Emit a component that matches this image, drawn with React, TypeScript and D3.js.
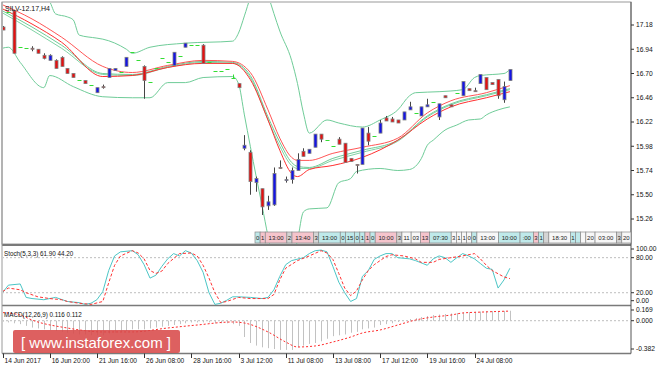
import React from "react";
import * as d3 from "d3";

const W = 664;
const H = 369;

// ---- candles (H4 bars, index 0..86) ----
const open = [17.16,17.31,17.32,16.96,16.95,16.95,16.94,16.88,16.83,16.83,
  16.86,16.75,16.70,16.64,16.63,16.59,16.51,16.57,16.66,16.73,
  16.71,16.77,16.91,16.83,16.77,16.62,16.75,16.85,16.81,16.78,
  16.87,16.96,16.98,16.98,16.98,16.81,16.72,16.72,16.74,16.66,
  16.60,15.96,15.92,15.62,15.56,15.39,15.40,15.77,15.64,15.65,
  15.74,15.93,15.91,15.97,16.10,16.04,15.98,16.05,16.01,15.86,
  15.80,15.80,16.11,16.08,16.11,16.26,16.25,16.24,16.24,16.34,
  16.31,16.28,16.37,16.42,16.27,16.48,16.39,16.51,16.48,16.55,
  16.53,16.60,16.66,16.61,16.64,16.44,16.63];
const high = [17.17,17.31,17.33,16.96,16.95,16.97,16.94,16.90,16.89,16.84,
  16.87,16.75,16.70,16.64,16.63,16.59,16.56,16.59,16.75,16.75,
  16.71,16.86,16.91,16.83,16.78,16.62,16.75,16.85,16.81,16.91,
  16.87,17.00,16.98,16.98,16.99,16.81,16.72,16.72,16.74,16.69,
  16.60,16.09,15.94,15.68,15.56,15.49,15.77,15.84,15.68,15.77,
  15.91,15.96,15.95,16.10,16.10,16.04,15.98,16.07,16.01,15.86,
  15.80,16.16,16.17,16.08,16.24,16.28,16.27,16.24,16.32,16.42,
  16.31,16.37,16.45,16.42,16.40,16.48,16.39,16.51,16.62,16.55,
  16.56,16.69,16.66,16.61,16.64,16.62,16.74];
const low = [17.13,17.31,16.90,16.96,16.95,16.92,16.90,16.84,16.83,16.75,
  16.77,16.70,16.66,16.64,16.60,16.59,16.51,16.55,16.66,16.73,
  16.71,16.77,16.91,16.83,16.45,16.62,16.75,16.85,16.81,16.78,
  16.87,16.96,16.98,16.98,16.80,16.81,16.72,16.72,16.74,16.66,
  16.56,15.94,15.50,15.53,15.30,15.35,15.39,15.76,15.62,15.61,
  15.74,15.88,15.91,15.97,16.02,16.04,15.98,16.00,15.82,15.83,
  15.71,15.80,15.99,16.08,16.11,16.23,16.22,16.21,16.24,16.34,
  16.31,16.28,16.37,16.42,16.24,16.46,16.37,16.51,16.48,16.53,
  16.52,16.60,16.54,16.59,16.45,16.41,16.63];
const close = [17.13,17.31,16.90,16.96,16.95,16.94,16.90,16.85,16.88,16.75,
  16.77,16.70,16.66,16.64,16.60,16.59,16.56,16.56,16.75,16.75,
  16.71,16.86,16.91,16.83,16.63,16.62,16.75,16.85,16.81,16.91,
  16.87,17.00,16.98,16.98,16.80,16.81,16.72,16.72,16.74,16.66,
  16.56,15.99,15.63,15.66,15.38,15.43,15.71,15.76,15.65,15.74,
  15.85,15.88,15.95,16.10,16.05,16.04,15.98,16.00,15.82,15.83,
  15.79,16.16,16.03,16.08,16.21,16.23,16.22,16.21,16.32,16.37,
  16.31,16.37,16.39,16.42,16.40,16.46,16.37,16.51,16.62,16.53,
  16.52,16.69,16.54,16.59,16.48,16.57,16.74];

// ---- moving averages / bands (read at selected bars) ----
const maIdx = [0,5,10,17,22,28,34,39,42,45,47,49,50,52,56,61,67,72,76,82,86];
const redSlow = [17.38,17.24,17.06,16.77,16.71,16.78,16.83,16.82,16.71,16.34,16.06,15.87,15.84,15.84,15.91,15.97,16.06,16.31,16.43,16.51,16.58];
const redFast = [17.34,17.19,17.01,16.67,16.68,16.76,16.80,16.80,16.64,16.24,15.94,15.71,15.68,15.75,15.79,15.87,16.04,16.25,16.37,16.46,16.52];
const greenMid = [17.32,17.16,16.98,16.70,16.69,16.77,16.82,16.81,16.68,16.27,16.02,15.82,15.78,15.77,15.86,15.94,16.04,16.28,16.40,16.49,16.55];
const green2 = [17.30,17.13,16.95,16.69,16.68,16.76,16.81,16.80,16.66,16.24,15.98,15.79,15.76,15.76,15.84,15.92,16.03,16.27,16.39,16.48,16.54];

const ubIdx = [0,5,7,8,9,11,12,13,16,17,21,22,25,31,39,40,41,42,44,45,47,49,50,51,52,55,57,61,64,67,69,70,74,78,80,81,83,85,86];
const ubVal = [17.82,17.58,17.46,17.41,17.29,17.26,17.23,17.08,17.05,17.04,16.94,16.90,16.96,17.00,17.02,17.10,17.27,17.45,17.67,17.48,17.12,16.83,16.60,16.31,16.11,16.24,16.21,16.17,16.24,16.34,16.48,16.51,16.52,16.54,16.66,16.68,16.69,16.70,16.74];
const lbIdx = [0,1,3,7,8,12,17,22,25,28,31,34,39,40,41,42,43,44,45,46,47,48,49,50,51,52,55,57,59,60,64,67,69,71,72,73,75,77,79,81,82,84,86];
const lbVal = [16.95,16.96,16.81,16.56,16.68,16.57,16.47,16.46,16.46,16.61,16.61,16.66,16.67,16.60,16.29,15.98,15.68,15.39,15.09,14.83,14.71,14.71,14.83,15.05,15.33,15.36,15.37,15.62,15.66,15.73,15.76,15.74,15.75,15.86,15.99,16.04,16.14,16.19,16.24,16.25,16.29,16.34,16.37];

// ---- stochastic ----
const kIdx = [0,1,3,4,5,7,9,11,13,14,15,16,17,18,19,20,22,23,24,25,26,27,28,29,30,31,32,33,34,35,36,37,38,39,40,42,44,45,46,47,48,49,51,52,53,54,55,56,57,58,59,60,61,62,63,64,65,66,67,69,70,72,73,74,75,76,77,78,79,80,81,82,83,84,85,86];
const kVal = [20,33,35,12,10,8,12,5,3,0,2,8,22,58,83,90,92,85,68,45,50,65,78,87,83,92,88,75,55,20,0,2,7,13,13,12,10,12,25,48,68,75,80,87,92,93,90,65,38,20,5,10,48,58,77,83,87,87,80,78,75,67,78,83,80,72,80,87,83,78,70,62,60,28,42,61.9];
const dIdx = [0,1,3,4,6,8,10,11,13,15,17,18,19,20,22,23,24,25,26,27,28,30,32,33,34,35,36,37,38,40,42,45,46,47,48,50,52,54,55,56,57,58,59,60,61,62,63,65,66,68,70,71,73,74,76,78,80,81,82,83,85,86];
const dVal = [22,28,25,20,13,10,8,5,2,0,5,37,67,83,92,88,78,58,53,57,70,87,88,83,67,45,20,3,5,12,10,10,17,42,62,75,83,92,88,77,53,28,15,23,42,58,68,82,85,83,78,72,72,77,80,83,87,78,67,58,47,44.2];

// ---- MACD ----
const macdHist = [-0.01,-0.02,-0.03,-0.04,-0.06,-0.08,-0.09,-0.10,-0.11,-0.12,
  -0.13,-0.14,-0.15,-0.16,-0.16,-0.17,-0.17,-0.17,-0.15,-0.14,
  -0.13,-0.12,-0.10,-0.10,-0.10,-0.09,-0.08,-0.07,-0.06,-0.05,
  -0.04,-0.03,-0.02,-0.02,-0.02,-0.02,-0.03,-0.03,-0.03,-0.04,
  -0.06,-0.19,-0.26,-0.29,-0.31,-0.32,-0.33,-0.34,-0.34,-0.34,
  -0.31,-0.29,-0.27,-0.26,-0.24,-0.21,-0.18,-0.17,-0.16,-0.14,
  -0.13,-0.10,-0.09,-0.08,-0.05,-0.04,-0.03,-0.015,0.0,0.02,
  0.03,0.043,0.055,0.066,0.072,0.078,0.084,0.09,0.095,0.10,
  0.104,0.107,0.11,0.112,0.113,0.114,0.116];
const sigIdx = [0,3,5,11,17,22,28,33,39,41,45,48,50,53,56,59,61,64,67,70,73,76,78,81,86];
const sigVal = [0.095,0.066,0.008,-0.085,-0.131,-0.131,-0.085,-0.05,-0.015,-0.027,-0.131,-0.248,-0.306,-0.294,-0.248,-0.19,-0.143,-0.108,-0.05,0.008,0.043,0.066,0.09,0.10,0.112];

// ---- axes ----
const priceTicks = [17.18, 16.94, 16.70, 16.46, 16.22, 15.98, 15.74, 15.50, 15.26];
const stochTicks = [100, 80, 20, 0];
const macdTicks = [0.169, 0.0, -0.382];
const dateIdx = [0, 8, 16, 24, 32, 40, 48, 56, 64, 72, 80];
const dateLabels = ["14 Jun 2017", "16 Jun 20:00", "21 Jun 16:00", "26 Jun 08:00", "28 Jun 16:00", "3 Jul 12:00", "11 Jul 08:00", "13 Jul 08:00", "17 Jul 12:00", "19 Jul 16:00", "24 Jul 08:00"];

// session boxes at the bottom of the price panel
const boxLabels = ["0","1","13:00","2","13:40","3","13:00","0","15","0","1","1","0","10:00","3","11","03","13","07:30","3","1","1","0","0","13:00","10:00",":00","3","1","","18:30","1","","","20","03:00","3","20"];
const boxKinds = ["c","p","p","g","p","g","c","c","c","c","c","p","c","p","g","w","w","p","c","w","w","w","w","c","w","c","c","p","c","g","w","c","c","w","w","w","g","w"];
const boxFill: Record<string, string> = { c: "#bfe9ea", p: "#f5c4cc", g: "#d4d4d4", w: "#f7f7f7" };

const L = 2, R = 631;
const font = "'Liberation Sans', Arial, sans-serif";

const x = d3.scaleLinear().domain([0, 86]).range([2.5, 509.9]);
const yMain = d3.scaleLinear().domain([15.26, 17.18]).range([219, 25]);
const yStoch = d3.scaleLinear().domain([0, 100]).range([304.4, 246]);
const yMacd = d3.scaleLinear().domain([-0.382, 0.169]).range([353.5, 306.2]);

const mkLine = (y: d3.ScaleLinear<number, number>, curve: d3.CurveFactory) =>
  d3.line<[number, number]>().x((d) => x(d[0])).y((d) => y(d[1])).curve(curve);

const mainLine = mkLine(yMain, d3.curveMonotoneX);
const stochLine = mkLine(yStoch, d3.curveLinear);
const macdLine = mkLine(yMacd, d3.curveMonotoneX);

const pairs = (a: number[], b: number[]) => d3.zip(a, b) as [number, number][];

export default function App() {
  const boxW = boxLabels.map((s) => (s.length ? s.length * 4 + 1 : 5));
  const boxStart = x(43) - 1.2;
  const boxScale = (R - boxStart) / d3.sum(boxW);
  let acc = boxStart;
  const boxes = boxLabels.map((s, i) => {
    const b = { s, x0: acc, w: boxW[i] * boxScale, fill: boxFill[boxKinds[i]] };
    acc += b.w;
    return b;
  });

  return (
    <div style={{ position: "absolute", left: 0, top: 0 }}>
      <svg width={W} height={H} style={{ display: "block", background: "#fff" }} fontFamily={font}>
        <defs>
          <clipPath id="cMain"><rect x={L + 1} y={3} width={R - L - 1} height={241} /></clipPath>
          <clipPath id="cSto"><rect x={L + 1} y={246} width={R - L - 1} height={59} /></clipPath>
          <clipPath id="cMacd"><rect x={L + 1} y={306.5} width={R - L - 1} height={47} /></clipPath>
        </defs>

        {/* frames */}
        <rect x={L} y={2} width={R - L} height={242} fill="none" stroke="#9a9a9a" />
        <line x1={L} x2={R} y1={245} y2={245} stroke="#7a7a7a" strokeWidth={2} />
        <line x1={L} x2={R} y1={305.5} y2={305.5} stroke="#7a7a7a" strokeWidth={1.5} />
        <line x1={L} x2={R} y1={353.5} y2={353.5} stroke="#7a7a7a" strokeWidth={1.5} />
        <line x1={L} x2={L} y1={2} y2={353.5} stroke="#9a9a9a" />
        <line x1={R} x2={R} y1={2} y2={353.5} stroke="#555" />

        {/* main panel */}
        <g clipPath="url(#cMain)">
          <path d={mainLine(pairs(ubIdx, ubVal)) || ""} fill="none" stroke="#6fcc98" strokeWidth={1} />
          <path d={mainLine(pairs(lbIdx, lbVal)) || ""} fill="none" stroke="#6fcc98" strokeWidth={1} />
          <path d={mainLine(pairs(maIdx, green2)) || ""} fill="none" stroke="#7fd3a4" strokeWidth={1} />
          <path d={mainLine(pairs(maIdx, greenMid)) || ""} fill="none" stroke="#6fcc98" strokeWidth={1} />
          <path d={mainLine(pairs(maIdx, redSlow)) || ""} fill="none" stroke="#ff5555" strokeWidth={1} />
          <path d={mainLine(pairs(maIdx, redFast)) || ""} fill="none" stroke="#ff3030" strokeWidth={1} />

          {open.map((o, i) => {
            const c = close[i];
            const cx = Math.round(x(i)) + 0.5;
            if (o === c) {
              const yy = Math.round(yMain(o)) + 0.5;
              return (
                <g key={i}>
                  {high[i] > o && (
                    <line x1={cx} x2={cx} y1={yMain(high[i])} y2={yy} stroke="#33dd33" />
                  )}
                  <line x1={cx - 2} x2={cx + 2} y1={yy} y2={yy} stroke="#33dd33" />
                </g>
              );
            }
            const top = yMain(Math.max(o, c));
            const bot = yMain(Math.min(o, c));
            return (
              <g key={i}>
                <line x1={cx} x2={cx} y1={yMain(high[i])} y2={yMain(low[i])} stroke="#444" />
                <rect x={cx - 1.5} y={top} width={3} height={Math.max(1, bot - top)}
                  fill={c > o ? "#1414e6" : "#e61010"} stroke="#808080" strokeWidth={0.8} />
              </g>
            );
          })}

          {boxes.map((b, i) => (
            <g key={"b" + i}>
              <rect x={b.x0} y={232} width={b.w} height={11} fill={b.fill} stroke="#8a8a8a" strokeWidth={0.7} />
              <text x={b.x0 + b.w / 2} y={240.3} fontSize={6} textAnchor="middle" fill="#222">{b.s}</text>
            </g>
          ))}
        </g>
        <text x={5} y={11} fontSize={7} fill="#111">SILV-12.17,H4</text>

        {/* stochastic */}
        <g clipPath="url(#cSto)">
          {[80, 20].map((v) => (
            <line key={v} x1={L} x2={R} y1={yStoch(v)} y2={yStoch(v)} stroke="#bdbdbd" strokeDasharray="2,2" />
          ))}
          <path d={stochLine(pairs(kIdx, kVal)) || ""} fill="none" stroke="#4cc6c6" strokeWidth={1} />
          <path d={stochLine(pairs(dIdx, dVal)) || ""} fill="none" stroke="#ff3333" strokeWidth={1} strokeDasharray="3,2" />
        </g>
        <text x={4} y={256} fontSize={6.3} fill="#111">Stoch(5,3,3) 61.90 44.20</text>

        {/* MACD */}
        <g clipPath="url(#cMacd)">
          <line x1={L} x2={R} y1={yMacd(0)} y2={yMacd(0)} stroke="#bdbdbd" strokeDasharray="2,2" />
          {macdHist.map((v, i) => (
            <line key={i} x1={Math.round(x(i)) + 0.5} x2={Math.round(x(i)) + 0.5}
              y1={yMacd(0)} y2={yMacd(v)} stroke="#c2c2c2" strokeWidth={1} />
          ))}
          <path d={macdLine(pairs(sigIdx, sigVal)) || ""} fill="none" stroke="#ff2a2a" strokeWidth={1} strokeDasharray="2,2" />
        </g>
        <text x={4} y={317} fontSize={6.3} fill="#111">MACD(12,26,9) 0.116 0.112</text>

        {/* right axis */}
        {priceTicks.map((p) => (
          <g key={p}>
            <line x1={R} x2={R + 3} y1={yMain(p)} y2={yMain(p)} stroke="#333" />
            <text x={R + 5} y={yMain(p) + 2.4} fontSize={6.7} fill="#111">{p.toFixed(2)}</text>
          </g>
        ))}
        {stochTicks.map((v) => {
          const ly = Math.min(Math.max(yStoch(v), 249), 300.7);
          return (
            <g key={v}>
              <line x1={R} x2={R + 3} y1={ly} y2={ly} stroke="#333" />
              <text x={R + 5} y={ly + 2.4} fontSize={6.7} fill="#111">{v.toFixed(2)}</text>
            </g>
          );
        })}
        {macdTicks.map((v) => {
          const ly = Math.min(Math.max(yMacd(v), 310), 349);
          return (
            <g key={v}>
              <line x1={R} x2={R + 3} y1={ly} y2={ly} stroke="#333" />
              <text x={R + 5} y={ly + 2.4} fontSize={6.7} fill="#111">{v.toFixed(3)}</text>
            </g>
          );
        })}

        {/* time axis */}
        {dateIdx.map((d, i) => (
          <g key={d}>
            <line x1={Math.round(x(d)) + 0.5} x2={Math.round(x(d)) + 0.5} y1={353.5} y2={358} stroke="#333" />
            <text x={x(d) + 2} y={363} fontSize={6.6} fill="#111">{dateLabels[i]}</text>
          </g>
        ))}

        {/* watermark */}
        <rect x={13} y={330} width={167} height={23} rx={2} fill="#d84a4a" opacity={0.88} />
        <text x={96} y={348} fontSize={15} fill="#fff" textAnchor="middle" textLength={150} lengthAdjust="spacingAndGlyphs">
          [ www.instaforex.com ]
        </text>
      </svg>
    </div>
  );
}
